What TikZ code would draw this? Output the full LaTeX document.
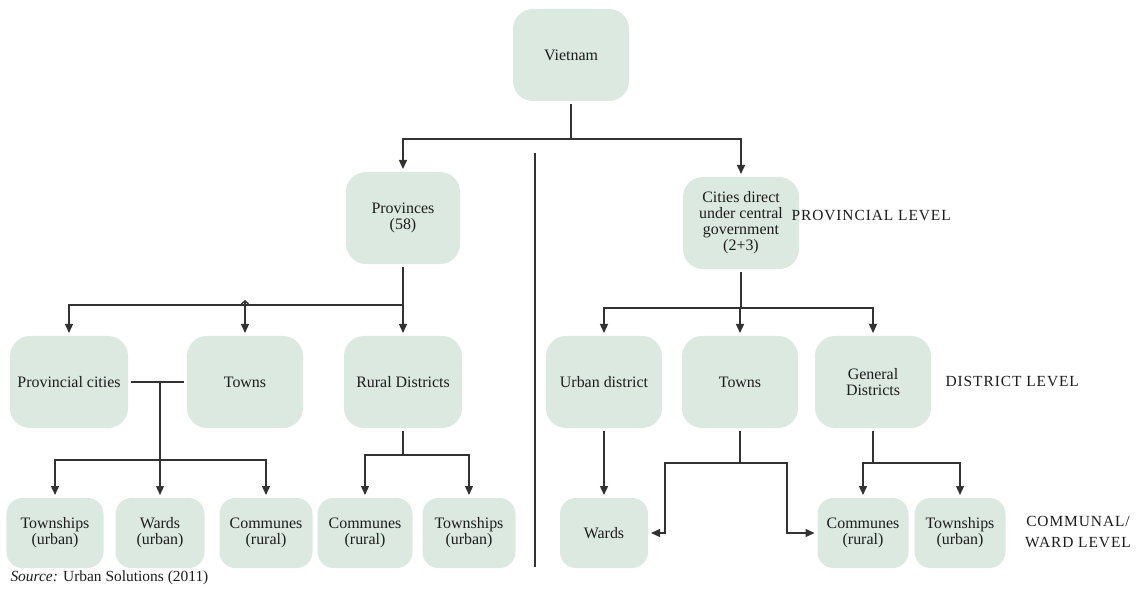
\documentclass[tikz,border=0pt]{standalone}
\usepackage{fontspec}
\setmainfont{Liberation Serif}
\newfontfamily\capsfont[LetterSpace=6]{Liberation Serif}
\usetikzlibrary{arrows.meta}
\definecolor{boxgreen}{RGB}{219,233,224}
\definecolor{inkgray}{RGB}{28,28,28}
\definecolor{linegray}{RGB}{50,50,50}

\begin{document}
\begin{tikzpicture}[x=1bp, y=-1bp]
\tikzstyle{mybox} = [rectangle, rounded corners = 20bp, fill = boxgreen, text = inkgray, align = center, font = \fontsize{16}{16}\selectfont, inner sep = 2bp, outer sep = 3bp]
\tikzstyle{bigbox} = [mybox, minimum width = 116bp, minimum height = 92bp]
\tikzstyle{smallbox} = [mybox, minimum height = 70bp, rounded corners = 16bp]
\tikzset{link/.style={draw = linegray, line width = 1.4bp}, arr/.style={link, -{Triangle[length = 9bp, width = 8bp]}}, lvltext/.style={text = inkgray, align = center, font = \capsfont\fontsize{15.5}{21}\selectfont}}
\useasboundingbox (0,0) rectangle (1140,599);

\node [bigbox] (vietnam) at (571,55) {Vietnam};
\node [bigbox, minimum width = 114bp] (provinces) at (403,218) {Provinces\\(58)};
\node [bigbox] (cities) at (741,223) {Cities direct\\under central\\government\\(2+3)};

\node [bigbox, minimum width = 118bp] (provcities) at (69,382) {Provincial cities};
\node [bigbox] (townsL) at (245,382) {Towns};
\node [bigbox, minimum width = 118bp] (rural) at (403,382) {Rural Districts};
\node [bigbox] (urban) at (604,382) {Urban district};
\node [bigbox] (townsR) at (740,382) {Towns};
\node [bigbox] (general) at (873,382) {General\\Districts};

\node [smallbox, minimum width = 97bp] (townshipsL) at (55,533) {Townships\\(urban)};
\node [smallbox, minimum width = 89bp] (wardsL) at (160,533) {Wards\\(urban)};
\node [smallbox, minimum width = 93bp] (communesL) at (266,533) {Communes\\(rural)};
\node [smallbox, minimum width = 95bp] (communesM) at (365,533) {Communes\\(rural)};
\node [smallbox, minimum width = 93bp] (townshipsM) at (469,533) {Townships\\(urban)};
\node [smallbox, minimum width = 88bp] (wardsR) at (604,533) {Wards};
\node [smallbox, minimum width = 91bp] (communesR) at (863,533) {Communes\\(rural)};
\node [smallbox, minimum width = 91bp] (townshipsR) at (960,533) {Townships\\(urban)};

\node [lvltext, anchor = west] (provlvl) at (788,216) {PROVINCIAL LEVEL};
\node [lvltext, anchor = west] (distlvl) at (942,382) {DISTRICT LEVEL};
\node [lvltext] (commlvl) at (1078,532) {COMMUNAL/\\WARD LEVEL};
\node [anchor = west, text = inkgray, font = \fontsize{15.5}{15.5}\selectfont] (source) at (7,578) {\textit{Source:} Urban Solutions (2011)};

% national level splits in two
\draw [link] (vietnam.south) -- ++(0,35) coordinate (vj);
\draw [arr] (vj) -| (provinces.north);
\draw [arr] (vj) -| (cities.north);

\coordinate (divtop) at (535,153);
\coordinate (divbot) at (535,567);
\draw [link, line width = 1.6bp] (divtop) -- (divbot);

% provinces side
\draw [link] (provinces.south) -- ++(0,38) coordinate (pj);
\draw [arr] (pj) -| (provcities.north);
\draw [arr] (pj) -- (rural.north);
\path (pj -| townsL.north) ++(0,-5) coordinate (tcaret);
\draw [link, {Straight Barb[length = 3bp, width = 7bp]}-{Triangle[length = 9bp, width = 8bp]}] (tcaret) -- (townsL.north);

\draw [link] (provcities) -- coordinate [pos = 0.55] (pm) (townsL);
\draw [link] (pm) -- ++(0,78) coordinate (lj);
\draw [arr] (lj) -| (townshipsL.north);
\draw [arr] (lj) -| (wardsL.north);
\draw [arr] (lj) -| (communesL.north);

\draw [link] (rural.south) -- ++(0,24) coordinate (rj);
\draw [arr] (rj) -| (communesM.north);
\draw [arr] (rj) -| (townshipsM.north);

% cities side
\draw [link] (cities.south) -- ++(0,36) coordinate (cj);
\draw [arr] (cj) -| (urban.north);
\draw [arr] (cj) -| (townsR.north);
\draw [arr] (cj) -| (general.north);

\draw [arr] (urban) -- (wardsR);

\draw [link] (townsR.south) -- ++(0,32) coordinate (tj);
\draw [arr] (tj) -- ++(-75,0) |- (wardsR.east);
\draw [arr] (tj) -- ++(47,0) |- (communesR.west);

\draw [link] (general.south) -- ++(0,32) coordinate (gj);
\draw [arr] (gj) -| (communesR.north);
\draw [arr] (gj) -| (townshipsR.north);
\end{tikzpicture}
\end{document}
